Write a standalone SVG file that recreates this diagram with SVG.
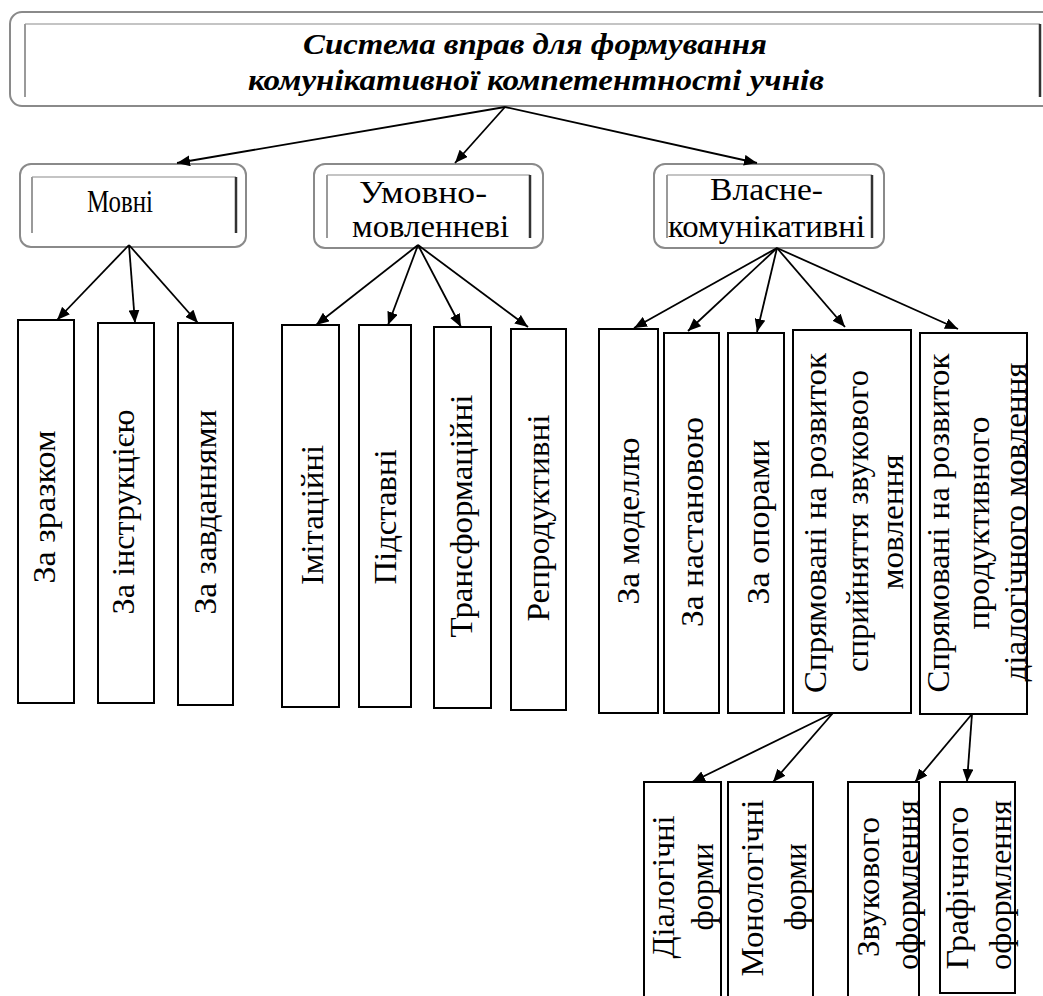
<svg xmlns="http://www.w3.org/2000/svg" width="1043" height="996" viewBox="0 0 1043 996">
<style>
.t{font-family:"Liberation Serif","Times New Roman",serif;fill:#000;font-size:32px}
.tt{font-family:"Liberation Serif","Times New Roman",serif;font-weight:bold;font-style:italic;fill:#000;font-size:29px}
.v{text-anchor:middle;dominant-baseline:central}
.h{text-anchor:middle}
.box{fill:#fff;stroke:#000;stroke-width:2}
.outer{fill:#fff;stroke:#8a8a8a;stroke-width:2}
.inTop{stroke:#c4c4c4;stroke-width:2;fill:none}
.inLeft{stroke:#9a9a9a;stroke-width:2;fill:none}
.inRight{stroke:#333;stroke-width:2.5;fill:none}
.con line{stroke:#000;stroke-width:1.8;marker-end:url(#ah)}
</style>
<defs>
<marker id="ah" viewBox="0 0 12 10" refX="12" refY="5" markerWidth="13" markerHeight="11" orient="auto" markerUnits="userSpaceOnUse">
<path d="M0,0 L12,5 L0,10 z" fill="#000"/>
</marker>
</defs>
<rect width="1043" height="996" fill="#fff"/>

<g id="title">
<rect class="outer" x="10" y="12" width="1050" height="94" rx="12"/>
<line class="inTop" x1="25" y1="24" x2="1040" y2="24"/>
<line class="inLeft" x1="25" y1="24" x2="25" y2="97"/>
<line class="inRight" x1="1040" y1="24" x2="1040" y2="97"/>
<text class="tt" x="303" y="54" textLength="464" lengthAdjust="spacingAndGlyphs">Система вправ для формування</text>
<text class="tt" x="248" y="90" textLength="576" lengthAdjust="spacingAndGlyphs">комунікативної компетентності учнів</text>
</g>

<g id="movni">
<rect class="outer" x="20" y="164" width="226" height="83" rx="11"/>
<line class="inTop" x1="32" y1="177" x2="236" y2="177"/>
<line class="inLeft" x1="32" y1="177" x2="32" y2="233"/>
<line class="inRight" x1="236" y1="177" x2="236" y2="233"/>
<text class="t h" x="120" y="212" textLength="66" lengthAdjust="spacingAndGlyphs">Мовні</text>
</g>

<g id="umovno">
<rect class="outer" x="314" y="164" width="229" height="84" rx="11"/>
<line class="inTop" x1="327" y1="175" x2="530" y2="175"/>
<line class="inLeft" x1="327" y1="175" x2="327" y2="238"/>
<line class="inRight" x1="530" y1="175" x2="530" y2="238"/>
<text class="t" x="359" y="203" textLength="128" lengthAdjust="spacingAndGlyphs">Умовно-</text>
<text class="t" x="352" y="237" textLength="157" lengthAdjust="spacingAndGlyphs">мовленневі</text>
</g>

<g id="vlasne">
<rect class="outer" x="654" y="164" width="230" height="84" rx="11"/>
<line class="inTop" x1="667" y1="175" x2="872" y2="175"/>
<line class="inLeft" x1="667" y1="175" x2="667" y2="238"/>
<line class="inRight" x1="872" y1="175" x2="872" y2="238"/>
<text class="t" x="710" y="200" textLength="113" lengthAdjust="spacingAndGlyphs">Власне-</text>
<text class="t" x="668" y="237" textLength="197" lengthAdjust="spacingAndGlyphs">комунікативні</text>
</g>

<g id="za-zrazkom">
<rect class="box" x="18" y="320" width="56" height="383"/>
<text class="t v" transform="translate(44,507) rotate(-90)" textLength="153" lengthAdjust="spacingAndGlyphs">За зразком</text>
</g>
<g id="za-instruktsiieiu">
<rect class="box" x="98" y="323" width="56" height="380"/>
<text class="t v" transform="translate(123,512) rotate(-90)" textLength="205" lengthAdjust="spacingAndGlyphs">За інструкцією</text>
</g>
<g id="za-zavdanniamy">
<rect class="box" x="178" y="323" width="55" height="382"/>
<text class="t v" transform="translate(205,512) rotate(-90)" textLength="205" lengthAdjust="spacingAndGlyphs">За завданнями</text>
</g>
<g id="imitatsiini">
<rect class="box" x="282" y="325" width="57" height="382"/>
<text class="t v" transform="translate(312,515) rotate(-90)" textLength="140" lengthAdjust="spacingAndGlyphs">Імітаційні</text>
</g>
<g id="pidstavni">
<rect class="box" x="359" y="325" width="52" height="382"/>
<text class="t v" transform="translate(385,517) rotate(-90)" textLength="135" lengthAdjust="spacingAndGlyphs">Підставні</text>
</g>
<g id="transformatsiini">
<rect class="box" x="434" y="327" width="57" height="381"/>
<text class="t v" transform="translate(461,516) rotate(-90)" textLength="243" lengthAdjust="spacingAndGlyphs">Трансформаційні</text>
</g>
<g id="reproduktyvni">
<rect class="box" x="511" y="329" width="55" height="381"/>
<text class="t v" transform="translate(538,518) rotate(-90)" textLength="207" lengthAdjust="spacingAndGlyphs">Репродуктивні</text>
</g>
<g id="za-modelliu">
<rect class="box" x="599" y="329" width="59" height="384"/>
<text class="t v" transform="translate(628,521) rotate(-90)" textLength="167" lengthAdjust="spacingAndGlyphs">За моделлю</text>
</g>
<g id="za-nastanovoiu">
<rect class="box" x="664" y="333" width="55" height="380"/>
<text class="t v" transform="translate(692,522) rotate(-90)" textLength="210" lengthAdjust="spacingAndGlyphs">За настановою</text>
</g>
<g id="za-oporamy">
<rect class="box" x="728" y="333" width="56" height="380"/>
<text class="t v" transform="translate(758,522) rotate(-90)" textLength="165" lengthAdjust="spacingAndGlyphs">За опорами</text>
</g>
<g id="spriimannia">
<rect class="box" x="793" y="330" width="118" height="383"/>
<text class="t v" transform="translate(815,523) rotate(-90)" textLength="340" lengthAdjust="spacingAndGlyphs">Спрямовані на розвиток</text>
<text class="t v" transform="translate(857,521) rotate(-90)" textLength="302" lengthAdjust="spacingAndGlyphs">сприйняття звукового</text>
<text class="t v" transform="translate(892,522) rotate(-90)" textLength="135" lengthAdjust="spacingAndGlyphs">мовлення</text>
</g>
<g id="produktyvne">
<rect class="box" x="920" y="333" width="107" height="381"/>
<text class="t v" transform="translate(938,523) rotate(-90)" textLength="339" lengthAdjust="spacingAndGlyphs">Спрямовані на розвиток</text>
<text class="t v" transform="translate(978,523) rotate(-90)" textLength="213" lengthAdjust="spacingAndGlyphs">продуктивного</text>
<text class="t v" transform="translate(1015,522) rotate(-90)" textLength="319" lengthAdjust="spacingAndGlyphs">діалогічного мовлення</text>
</g>
<g id="dialohichni">
<rect class="box" x="644" y="782" width="77" height="220"/>
<text class="t v" transform="translate(663,887) rotate(-90)" textLength="143" lengthAdjust="spacingAndGlyphs">Діалогічні</text>
<text class="t v" transform="translate(702,887) rotate(-90)" textLength="87" lengthAdjust="spacingAndGlyphs">форми</text>
</g>
<g id="monolohichni">
<rect class="box" x="728" y="782" width="85" height="220"/>
<text class="t v" transform="translate(752,888) rotate(-90)" textLength="177" lengthAdjust="spacingAndGlyphs">Монологічні</text>
<text class="t v" transform="translate(795,887) rotate(-90)" textLength="87" lengthAdjust="spacingAndGlyphs">форми</text>
</g>
<g id="zvukovoho">
<rect class="box" x="848" y="782" width="71" height="220"/>
<text class="t v" transform="translate(868,887) rotate(-90)" textLength="140" lengthAdjust="spacingAndGlyphs">Звукового</text>
<text class="t v" transform="translate(907,885) rotate(-90)" textLength="170" lengthAdjust="spacingAndGlyphs">оформлення</text>
</g>
<g id="hrafichnoho">
<rect class="box" x="940" y="782" width="75" height="211"/>
<text class="t v" transform="translate(957,888) rotate(-90)" textLength="163" lengthAdjust="spacingAndGlyphs">Графічного</text>
<text class="t v" transform="translate(1000,885) rotate(-90)" textLength="170" lengthAdjust="spacingAndGlyphs">оформлення</text>
</g>

<g id="connectors" class="con">
<line x1="505" y1="107" x2="177" y2="163"/>
<line x1="505" y1="107" x2="455" y2="163"/>
<line x1="505" y1="107" x2="757" y2="163"/>
<line x1="129" y1="245" x2="57" y2="320"/>
<line x1="129" y1="245" x2="135" y2="323"/>
<line x1="129" y1="245" x2="198" y2="323"/>
<line x1="418" y1="245" x2="316" y2="325"/>
<line x1="418" y1="245" x2="388" y2="325"/>
<line x1="418" y1="245" x2="461" y2="327"/>
<line x1="418" y1="245" x2="528" y2="327"/>
<line x1="777" y1="248" x2="634" y2="328"/>
<line x1="777" y1="248" x2="688" y2="331"/>
<line x1="777" y1="248" x2="757" y2="332"/>
<line x1="777" y1="248" x2="845" y2="327"/>
<line x1="777" y1="248" x2="958" y2="329"/>
<line x1="833" y1="713" x2="692" y2="782"/>
<line x1="833" y1="713" x2="773" y2="782"/>
<line x1="972" y1="714" x2="915" y2="782"/>
<line x1="972" y1="714" x2="967" y2="782"/>
</g>
</svg>
